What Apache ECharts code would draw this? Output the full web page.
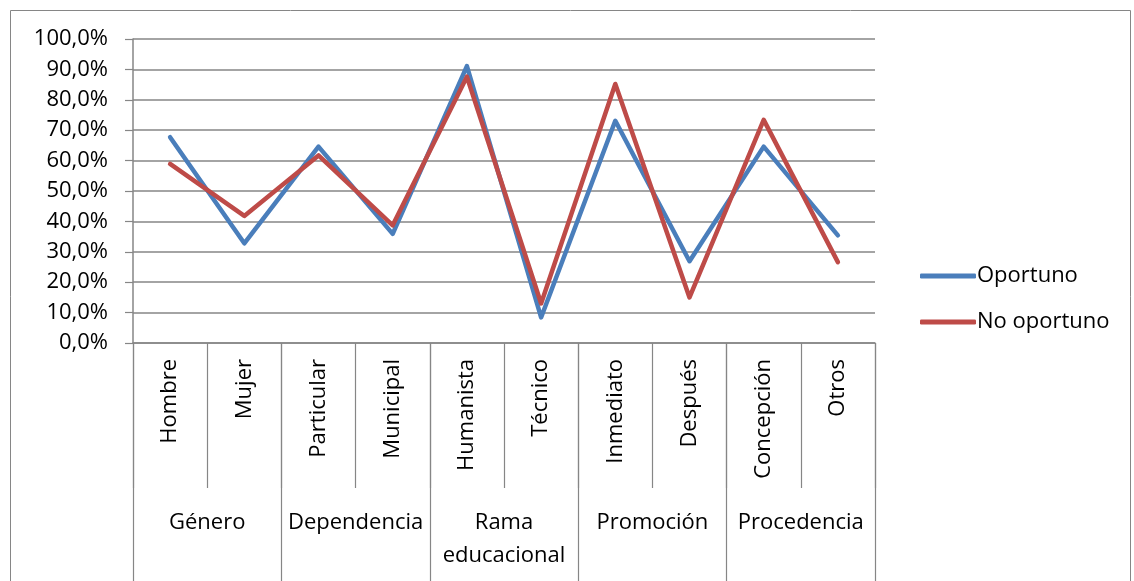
<!DOCTYPE html>
<html>
<head>
<meta charset="utf-8">
<script src="https://cdn.jsdelivr.net/npm/echarts@6/dist/echarts.min.js"></script>
<style>
  html, body { margin: 0; padding: 0; background: #fff; }
  #chart { width: 1134px; height: 581px; }
</style>
</head>
<body>
<div id="chart"></div>
<script>
// Sub-categories (lower level of the category axis)
const categories = ['Hombre', 'Mujer', 'Particular', 'Municipal', 'Humanista', 'Técnico', 'Inmediato', 'Después', 'Concepción', 'Otros'];
// Groups (upper level of the category axis), two sub-categories each
const groups = ['Género', 'Dependencia', 'Rama\neducacional', 'Promoción', 'Procedencia'];
// Percentages per sub-category
const oportuno = [67.7, 32.8, 64.6, 35.9, 91.1, 8.4, 73.1, 26.9, 64.6, 35.4];
const noOportuno = [58.9, 41.8, 61.7, 38.7, 87.6, 13.0, 85.2, 15.0, 73.4, 26.6];
const seriesNames = ['Oportuno', 'No oportuno'];

const FONT = '"Open Sans", "Noto Sans", sans-serif';
const FS = 22;
const GRAY = '#868686';
const TEXT = '#000';

const chart = echarts.init(document.getElementById('chart'), null, { renderer: 'canvas' });

chart.setOption({
  animation: false,
  backgroundColor: '#fff',
  graphic: [{
    type: 'rect',
    shape: { x: 10.5, y: 10.5, width: 1120, height: 600 },
    style: { fill: 'none', stroke: GRAY, lineWidth: 1 },
    silent: true,
    z: -10
  }],
  grid: { left: 133, right: 259, top: 39, bottom: 238, containLabel: false },
  legend: {
    orient: 'vertical',
    left: 915,
    top: 260,
    itemWidth: 56,
    itemHeight: 5,
    itemGap: 24,
    icon: 'roundRect',
    textStyle: { fontFamily: FONT, fontSize: FS, color: TEXT, padding: [0, 0, 0, -4] },
    data: seriesNames
  },
  xAxis: [{
    type: 'category',
    data: categories,
    position: 'bottom',
    boundaryGap: true,
    axisLine: { show: true, lineStyle: { color: GRAY, width: 1.5 } },
    axisTick: { show: true, interval: 0, length: 145, lineStyle: { color: GRAY, width: 1.2 } },
    axisLabel: {
      interval: 0, rotate: 90, margin: 16,
      fontFamily: FONT, fontSize: FS, color: TEXT
    },
    splitLine: { show: false }
  }, {
    type: 'category',
    data: groups,
    position: 'bottom',
    boundaryGap: true,
    axisLine: { show: false },
    axisTick: { show: true, interval: 0, length: 260, lineStyle: { color: GRAY, width: 1.2 } },
    axisLabel: {
      interval: 0, margin: 163, lineHeight: 33,
      fontFamily: FONT, fontSize: FS, color: TEXT
    },
    splitLine: { show: false }
  }],
  yAxis: {
    type: 'value',
    min: 0,
    max: 100,
    interval: 10,
    axisLine: { show: true, lineStyle: { color: GRAY, width: 1.5 } },
    axisTick: { show: true, inside: false, length: 8, lineStyle: { color: GRAY, width: 1.2 } },
    axisLabel: {
      margin: 25,
      fontFamily: FONT, fontSize: FS, color: TEXT,
      formatter: v => v.toFixed(1).replace('.', ',') + '%'
    },
    splitLine: { show: true, lineStyle: { color: GRAY, width: 1.5 } }
  },
  series: [{
    name: seriesNames[0],
    type: 'line',
    xAxisIndex: 0,
    data: oportuno,
    showSymbol: false,
    symbol: 'none',
    color: '#4a7ebb',
    lineStyle: { width: 4.5, color: '#4a7ebb', cap: 'round', join: 'round' },
    itemStyle: { color: '#4a7ebb' },
    z: 2
  }, {
    name: seriesNames[1],
    type: 'line',
    xAxisIndex: 0,
    data: noOportuno,
    showSymbol: false,
    symbol: 'none',
    color: '#be4b48',
    lineStyle: { width: 4.5, color: '#be4b48', cap: 'round', join: 'round' },
    itemStyle: { color: '#be4b48' },
    z: 3
  }]
});
</script>
</body>
</html>
